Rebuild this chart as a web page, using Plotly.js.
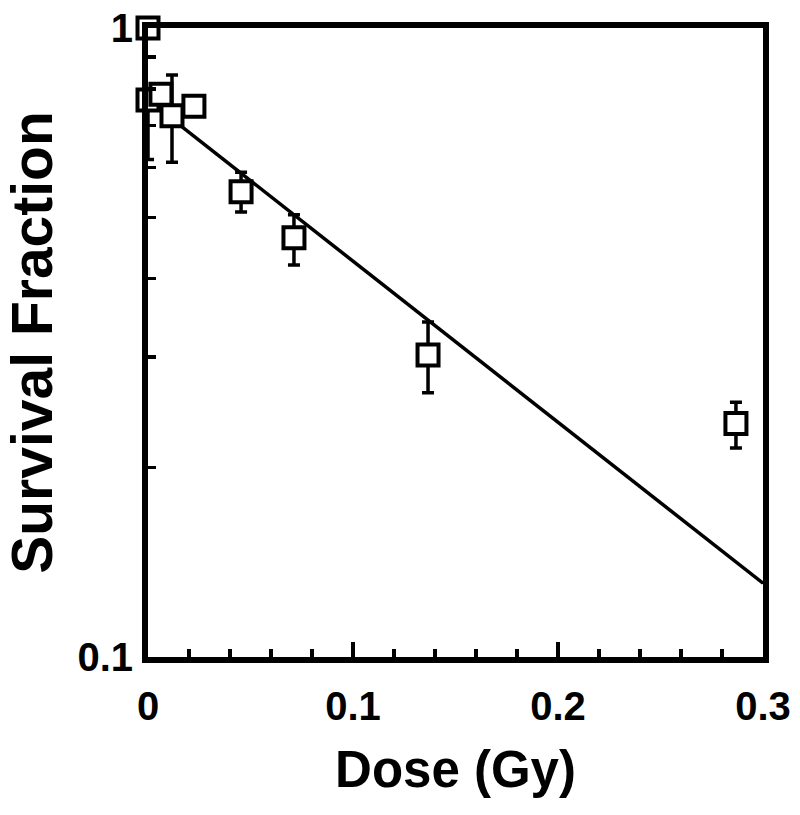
<!DOCTYPE html>
<html>
<head>
<meta charset="utf-8">
<script src="https://cdn.plot.ly/plotly-3.0.1.min.js"></script>
<style>html,body{margin:0;padding:0;background:#fff;}#chart{width:800px;height:815px;}</style>
</head>
<body>
<div id="chart"></div>
<script>
// Measured survival data
const dose = [0, 0, 0.0063, 0.0117, 0.0224, 0.0454, 0.0712, 0.1366, 0.2868];
const survival = [1.0, 0.768, 0.785, 0.725, 0.751, 0.549, 0.464, 0.302, 0.235];
const errPlus = [0, 0.03, 0, 0.117, 0, 0.041, 0.041, 0.039, 0.019];
const errMinus = [0, 0.15, 0, 0.113, 0, 0.039, 0.044, 0.039, 0.020];

// Fitted exponential line (endpoints)
const fitDose = [0, 0.3];
const fitSurvival = [0.768, 0.131];

const xTickVals = [0, 0.1, 0.2, 0.3];
const xTickText = ['0', '0.1', '0.2', '0.3'];
const yTickVals = [0.1, 1];
const yTickText = ['0.1', '1'];
const yMinorVals = [0.2, 0.3, 0.4, 0.5, 0.6, 0.7, 0.8, 0.9];

const FONT = 'Liberation Sans, Arial, Helvetica, sans-serif';

const traces = [
  {
    x: fitDose, y: fitSurvival, mode: 'lines', type: 'scatter',
    line: {color: '#000', width: 3.5}, hoverinfo: 'skip', cliponaxis: false
  },
  {
    x: dose, y: survival, mode: 'markers', type: 'scatter',
    marker: {symbol: 'square', size: 21, color: '#fff', line: {color: '#000', width: 4}},
    error_y: {type: 'data', symmetric: false, array: errPlus, arrayminus: errMinus,
              color: '#000', thickness: 3.5, width: 6},
    cliponaxis: false
  }
];

const layout = {
  width: 800, height: 815,
  margin: {l: 148, r: 37, t: 28, b: 158},
  paper_bgcolor: '#fff', plot_bgcolor: '#fff',
  showlegend: false,
  font: {family: FONT, color: '#000'},
  xaxis: {
    range: [0, 0.3], tickmode: 'array', tickvals: xTickVals, ticktext: xTickText,
    ticks: 'inside', ticklen: 15, tickwidth: 3.5, tickcolor: '#000',
    minor: {dtick: 0.02, tick0: 0, ticks: 'inside', ticklen: 8, tickwidth: 3.5, tickcolor: '#000'},
    showline: true, linewidth: 6, linecolor: '#000', mirror: true,
    showgrid: false, zeroline: false,
    tickfont: {family: FONT, size: 40, weight: 'bold'},
    ticklabelstandoff: 9,
    title: {text: 'Dose (Gy)', font: {family: FONT, size: 51, weight: 'bold'}, standoff: 26}
  },
  yaxis: {
    type: 'log', range: [-1, 0], tickmode: 'array', tickvals: yTickVals, ticktext: yTickText,
    ticks: '', tickcolor: '#000',
    minor: {tickmode: 'array', tickvals: yMinorVals, ticks: 'inside', ticklen: 8, tickwidth: 3.5, tickcolor: '#000'},
    showline: true, linewidth: 6, linecolor: '#000', mirror: true,
    showgrid: false, zeroline: false,
    tickfont: {family: FONT, size: 40, weight: 'bold'},
    ticklabelstandoff: 1,
    title: {text: 'Survival Fraction', font: {family: FONT, size: 57, weight: 'bold'}, standoff: 14}
  }
};

Plotly.newPlot('chart', traces, layout, {staticPlot: true, displayModeBar: false});
</script>
</body>
</html>
